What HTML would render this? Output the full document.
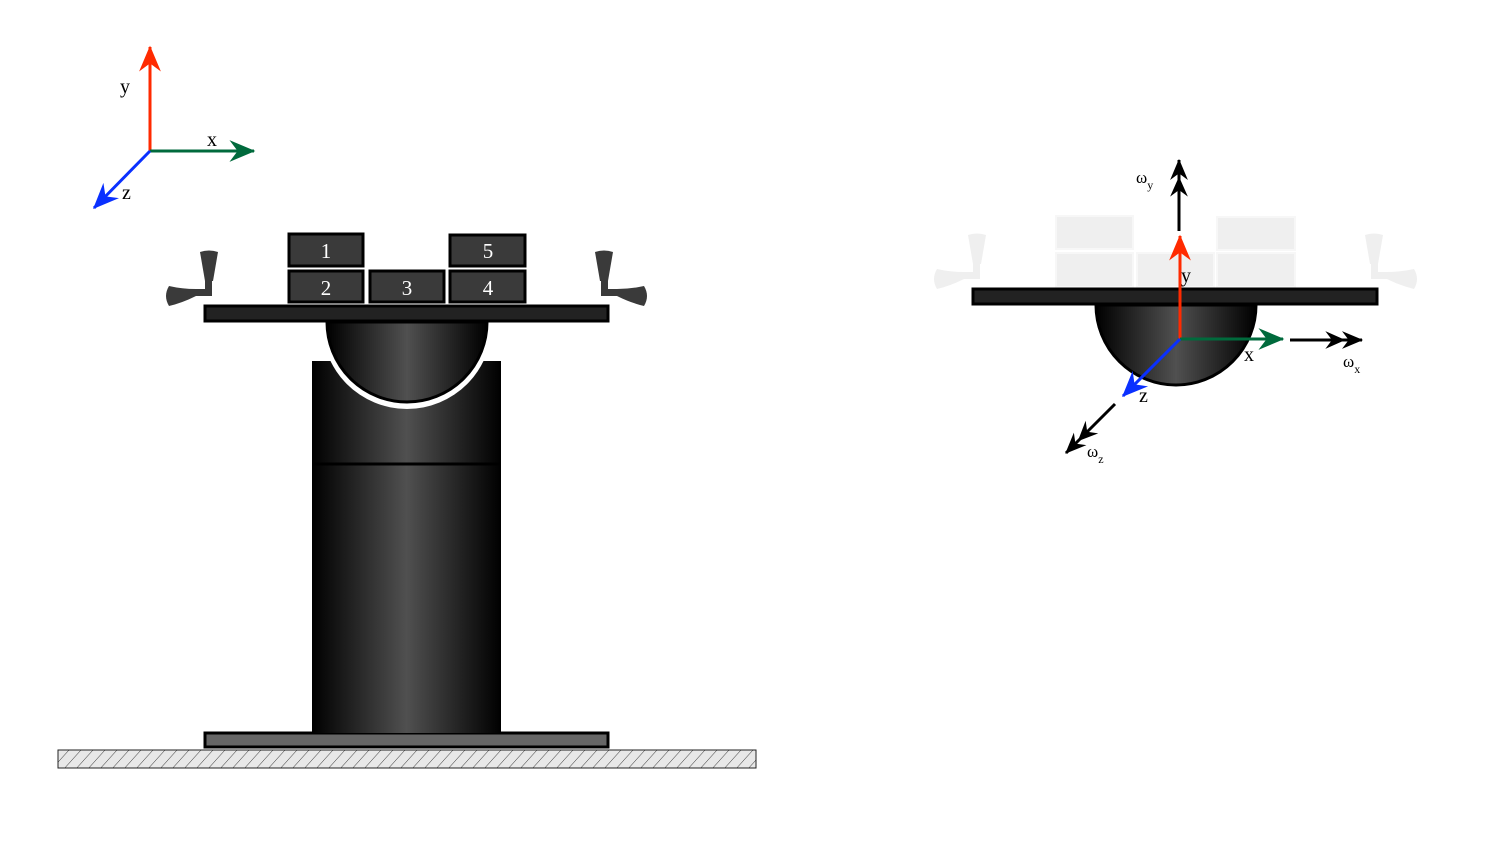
<!DOCTYPE html>
<html><head><meta charset="utf-8"><style>
html,body{margin:0;padding:0;background:#fff;}
svg{display:block;font-family:"Liberation Serif",serif;}
</style></head><body>
<svg width="1487" height="857" viewBox="0 0 1487 857">
<defs>
<linearGradient id="cyl" x1="0" x2="1" y1="0" y2="0">
<stop offset="0" stop-color="#000"/><stop offset="0.5" stop-color="#505050"/><stop offset="1" stop-color="#000"/>
</linearGradient>
<pattern id="hatch" width="12" height="18" patternUnits="userSpaceOnUse" patternTransform="skewX(-42)">
<rect width="12" height="18" fill="#e8e8e8"/><line x1="0" y1="0" x2="0" y2="18" stroke="#222" stroke-width="1.1"/>
</pattern>
<marker id="hr" markerUnits="userSpaceOnUse" markerWidth="30" markerHeight="30" refX="0" refY="0" viewBox="-20 -10 22 20" orient="auto"><path d="M1,0 L-18,-8 L-12,0 L-18,8Z" fill="#ff2a00"/></marker>
<marker id="hg" markerUnits="userSpaceOnUse" markerWidth="30" markerHeight="30" refX="0" refY="0" viewBox="-20 -10 22 20" orient="auto"><path d="M1,0 L-18,-8 L-12,0 L-18,8Z" fill="#006a3c"/></marker>
<marker id="hb" markerUnits="userSpaceOnUse" markerWidth="30" markerHeight="30" refX="0" refY="0" viewBox="-20 -10 22 20" orient="auto"><path d="M1,0 L-18,-8 L-12,0 L-18,8Z" fill="#0a30ff"/></marker>
<marker id="hk" markerUnits="userSpaceOnUse" markerWidth="40" markerHeight="30" refX="0" refY="0" viewBox="-34 -10 36 20" orient="auto"><path d="M1,0 L-18,-8 L-12,0 L-18,8Z M-15,0 L-33,-8 L-27,0 L-33,8Z" fill="#000"/></marker>
<g id="fan">
<path d="M200,252 Q209,249 218,252 L213,281 L205,281 Z"/>
<rect x="205" y="279" width="7" height="16"/>
<rect x="193" y="289" width="19" height="7"/>
<path d="M196,289 L196,296 Q182,303 169,306 Q163,296 169,286 Q182,289 196,289 Z"/>
</g>
<clipPath id="pillarClip"><rect x="312" y="361" width="189" height="372"/></clipPath>
</defs>

<g>
<line x1="150" y1="151" x2="150" y2="47" stroke="#ff2a00" stroke-width="3" marker-end="url(#hr)"/>
<line x1="150" y1="151" x2="254" y2="151" stroke="#006a3c" stroke-width="3" marker-end="url(#hg)"/>
<line x1="150" y1="151" x2="94" y2="208" stroke="#0a30ff" stroke-width="3" marker-end="url(#hb)"/>
<text x="120" y="93" font-size="20">y</text>
<text x="207" y="146" font-size="20">x</text>
<text x="122" y="199" font-size="20">z</text>
</g>

<rect x="58" y="750" width="698" height="18" fill="url(#hatch)" stroke="#222" stroke-width="1"/>
<rect x="205" y="733" width="403" height="14" fill="#666" stroke="#000" stroke-width="3"/>

<g>
<rect x="312" y="361" width="189" height="372" fill="url(#cyl)"/>
<circle cx="407" cy="324" r="85" fill="#fff" clip-path="url(#pillarClip)"/>
<line x1="312" y1="464" x2="501" y2="464" stroke="#000" stroke-width="3"/>
</g>
<path d="M327,322 L487,322 A80,80 0 0 1 327,322 Z" fill="url(#cyl)" stroke="#000" stroke-width="3"/>
<rect x="205" y="306" width="403" height="15" fill="#222" stroke="#000" stroke-width="3"/>

<g fill="#3a3a3a" stroke="#000" stroke-width="3">
<rect x="289" y="234" width="74" height="32"/>
<rect x="289" y="271" width="74" height="31"/>
<rect x="370" y="271" width="74" height="31"/>
<rect x="450" y="271" width="75" height="31"/>
<rect x="450" y="235" width="75" height="31"/>
</g>
<g fill="#fff" font-size="21" text-anchor="middle">
<text x="326" y="258">1</text><text x="326" y="295">2</text><text x="407" y="295">3</text><text x="488" y="295">4</text><text x="488" y="258">5</text>
</g>

<use href="#fan" fill="#3a3a3a"/>
<use href="#fan" fill="#3a3a3a" transform="translate(813,0) scale(-1,1)"/>

<g>
<g fill="#efefef" stroke="#f7f7f7" stroke-width="2">
<rect x="1056" y="216" width="77" height="33"/>
<rect x="1056" y="253" width="77" height="34"/>
<rect x="1137" y="253" width="77" height="34"/>
<rect x="1217" y="217" width="78" height="33"/>
<rect x="1217" y="253" width="78" height="34"/>
</g>
<use href="#fan" fill="#efefef" transform="translate(768,-17)"/>
<use href="#fan" fill="#efefef" transform="translate(1583,-17) scale(-1,1)"/>
</g>
<path d="M1096,305 L1256,305 A80,80 0 0 1 1096,305 Z" fill="url(#cyl)" stroke="#000" stroke-width="3"/>
<rect x="973" y="289" width="404" height="15" fill="#222" stroke="#000" stroke-width="3"/>

<g>
<line x1="1180" y1="339" x2="1180" y2="236" stroke="#ff2a00" stroke-width="3" marker-end="url(#hr)"/>
<line x1="1180" y1="339" x2="1283" y2="339" stroke="#006a3c" stroke-width="3" marker-end="url(#hg)"/>
<line x1="1180" y1="339" x2="1123" y2="396" stroke="#0a30ff" stroke-width="3" marker-end="url(#hb)"/>
<line x1="1179" y1="231" x2="1179" y2="160" stroke="#000" stroke-width="3" marker-end="url(#hk)"/>
<line x1="1290" y1="340" x2="1362" y2="340" stroke="#000" stroke-width="3" marker-end="url(#hk)"/>
<line x1="1115" y1="404" x2="1066" y2="453" stroke="#000" stroke-width="3" marker-end="url(#hk)"/>
<text x="1181" y="282" font-size="20">y</text>
<text x="1244" y="361" font-size="20">x</text>
<text x="1139" y="402" font-size="20">z</text>
<text x="1136" y="183" font-size="17">ω<tspan font-size="12" dy="6">y</tspan></text>
<text x="1343" y="367" font-size="17">ω<tspan font-size="12" dy="6">x</tspan></text>
<text x="1087" y="457" font-size="17">ω<tspan font-size="12" dy="6">z</tspan></text>
</g>
</svg>
</body></html>
